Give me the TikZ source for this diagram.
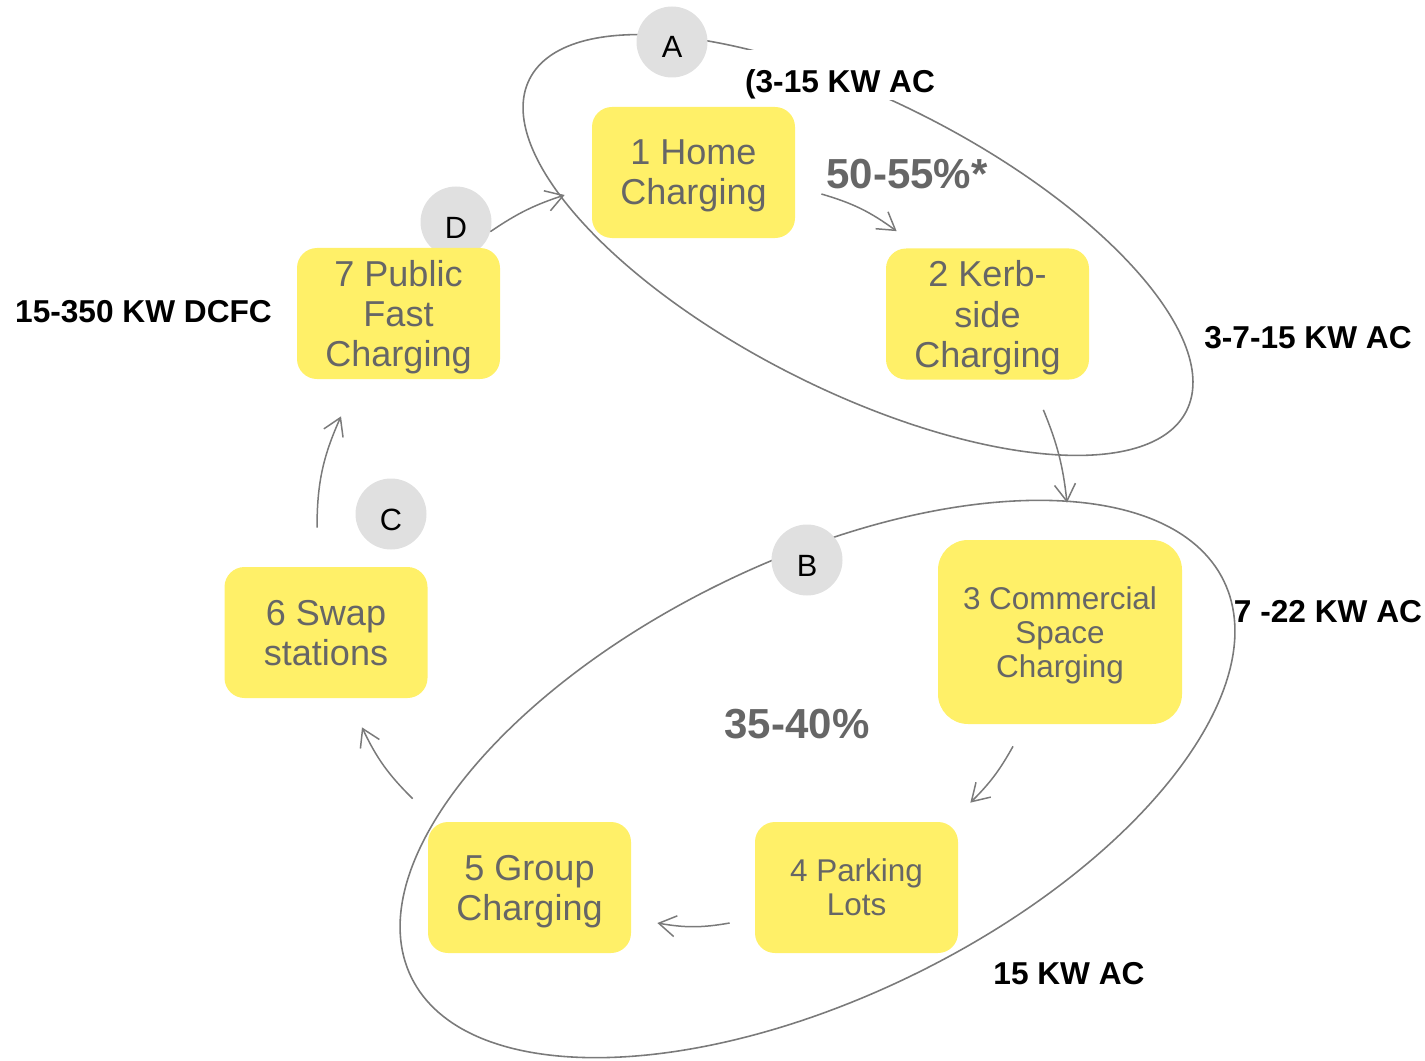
\documentclass[tikz,border=0pt]{standalone}
\usepackage{fontspec}
\setmainfont{Liberation Sans}
\usetikzlibrary{arrows.meta}
\usetikzlibrary{calc}

\definecolor{padyellow}{HTML}{FFF068}
\definecolor{taggray}{HTML}{E0E0E0}
\definecolor{inkgray}{HTML}{666666}
\definecolor{linegray}{HTML}{7A7A7A}

\begin{document}
\begin{tikzpicture}[
            x=0.2mm, y=-0.2mm,
            stage/.style={rectangle, rounded corners=0.4cm, fill=padyellow, text=inkgray, align=center,
                minimum width=4.06cm, minimum height=2.62cm, inner sep=0pt, text depth=0pt,
                font=\fontsize{20.5}{22.8}\selectfont},
            smallstage/.style={stage, font=\fontsize{17.9}{19.4}\selectfont},
            tag/.style={circle, fill=taggray, minimum size=1.42cm, inner sep=0pt,
                text height=0.64cm, text depth=0pt, font=\fontsize{17.5}{20}\selectfont},
            rate/.style={anchor=base, inner sep=0pt, font=\bfseries\fontsize{18}{20}\selectfont},
            share/.style={anchor=base, inner sep=0pt, text=inkgray, font=\bfseries\fontsize{23.9}{26}\selectfont},
            ring/.style={draw=linegray, line width=0.9pt},
            flow/.style={-{Straight Barb[length=0.34cm, width=0.42cm]}, draw=linegray, line width=0.85pt},
        ]
            \useasboundingbox (0,0) rectangle (1425,1061);

            % --- Dos zonas de carga ---
            \draw[ring] (858,245) ellipse [x radius=368, y radius=145, rotate=-26.8];
            \draw[ring] (817.5,779) ellipse [x radius=452, y radius=218, rotate=26];

            % --- Marcas A-D ---
            \node[tag] (tagA) at (672,42) {A};
            \node[tag] (tagB) at (807,560) {B};
            \node[tag] (tagC) at (391,514) {C};
            \node[tag] (tagD) at (456,222) {D};

            \node[rate, fill=white, inner xsep=0.1cm, inner ysep=0.1cm, text height=0.76cm, text depth=0.05cm]
                (rateA) at (840,93) {(3-15 KW AC};

            % --- Tipos de carga ---
            \node[stage] (home) at (693.5,172.5) {1 Home\\Charging};
            \node[stage] (kerb) at (987.5,314) {2 Kerb-\\side\\Charging};
            \node[smallstage, minimum width=4.88cm, minimum height=3.68cm, rounded corners=0.6cm]
                (comm) at (1060,632) {3 Commercial\\Space\\Charging};
            \node[smallstage] (park) at (856.5,887.5) {4 Parking\\Lots};
            \node[stage] (group) at (529.5,887.5) {5 Group\\Charging};
            \node[stage] (swap) at (326,632.5) {6 Swap\\stations};
            \node[stage] (pub) at (398.5,313.5) {7 Public\\Fast\\Charging};

            % --- Flechas entre tipos ---
            \coordinate (homeOut) at ($(home.east)+(26,21.5)$);
            \coordinate (kerbIn) at ($(kerb.north west)+(11,-17)$);
            \coordinate (kerbOut) at ($(kerb.south east)+(-46,30)$);
            \coordinate (commIn) at ($(comm.north)+(7,-37)$);
            \coordinate (commOut) at ($(comm.south)+(-47,22)$);
            \coordinate (parkIn) at ($(park.north east)+(12,-19)$);
            \coordinate (parkOut) at ($(park.west)+(-25,35.5)$);
            \coordinate (groupIn) at ($(group.east)+(26,35.5)$);
            \coordinate (groupOut) at ($(group.north west)+(-15,-23)$);
            \coordinate (swapIn) at ($(swap.south)+(36,29)$);
            \coordinate (swapOut) at ($(swap.north)+(-9,-39)$);
            \coordinate (pubIn) at ($(pub.south)+(-57.5,37)$);
            \coordinate (pubOut) at ($(pub.north east)+(-10,-16)$);
            \coordinate (homeIn) at ($(home.west)+(-27,22.5)$);

            \draw[flow] (homeOut) to[bend left=10] (kerbIn);
            \draw[flow] (kerbOut) to[bend left=8] (commIn);
            \draw[flow] (commOut) to[bend left=8] (parkIn);
            \draw[flow] (parkOut) to[bend left=10] (groupIn);
            \draw[flow] (groupOut) to[bend left=10] (swapIn);
            \draw[flow] (swapOut) to[bend left=12] (pubIn);
            \draw[flow] (pubOut) to[bend left=8] (homeIn);

            % --- Potencias y cuotas ---
            \node[share] (shareA) at (907,189) {50-55\%*};
            \node[share] (shareB) at (797,738) {35-40\%};
            \node[rate] (rateKerb) at (1308,348) {3-7-15 KW AC};
            \node[rate] (ratePub) at (143.5,322) {15-350 KW DCFC};
            \node[rate] (rateComm) at (1328,622) {7 -22 KW AC};
            \node[rate] (ratePark) at (1069,984) {15 KW AC};
        \end{tikzpicture}
\end{document}
